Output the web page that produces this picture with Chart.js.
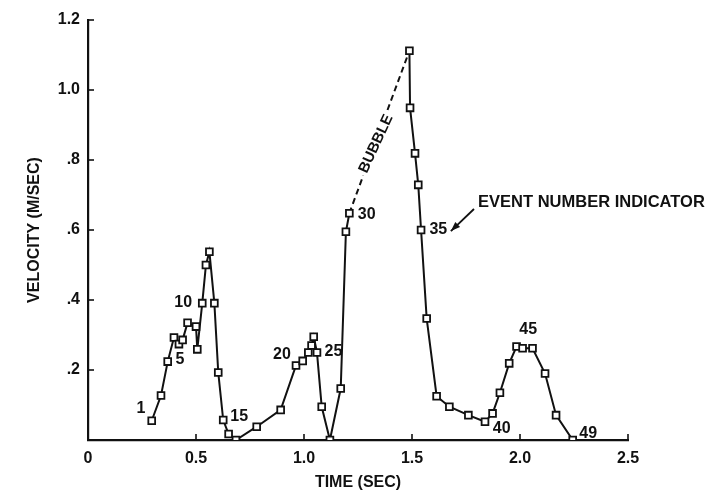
<!DOCTYPE html>
<html>
<head>
<meta charset="utf-8">
<script src="https://cdn.jsdelivr.net/npm/chart.js@4.4.1/dist/chart.umd.min.js"></script>
<style>
  html, body { margin: 0; padding: 0; background: #fff; }
  #wrap { width: 712px; height: 491px; position: relative; }
</style>
</head>
<body>
<div id="wrap"><canvas id="c" width="712" height="491"></canvas></div>
<script>
// ---- data ----
const timeSec = [0.295,0.338,0.369,0.398,0.421,0.438,0.461,0.500,0.506,0.529,
                 0.546,0.562,0.585,0.603,0.626,0.651,0.685,0.781,0.892,0.963,
                 0.994,1.020,1.035,1.045,1.060,1.082,1.120,1.170,1.194,1.210,
                 1.488,1.491,1.514,1.529,1.542,1.568,1.614,1.673,1.761,1.838,
                 1.873,1.907,1.950,1.984,2.012,2.058,2.116,2.167,2.244];
const velocity = [0.055,0.127,0.224,0.293,0.274,0.286,0.335,0.324,0.259,0.391,
                  0.500,0.538,0.391,0.193,0.057,0.017,0.000,0.038,0.086,0.213,
                  0.226,0.250,0.270,0.295,0.250,0.095,0.000,0.147,0.595,0.648,
                  1.112,0.949,0.819,0.729,0.600,0.347,0.125,0.095,0.071,0.052,
                  0.076,0.135,0.219,0.267,0.262,0.262,0.190,0.071,0.000];
const eventLabelText = ['1','5','10','15','20','25','30','35','40','45','49'];
const eventLabelX = [0.245,0.426,0.441,0.700,0.898,1.136,1.290,1.622,1.915,2.038,2.316];
const eventLabelY = [0.089,0.229,0.392,0.067,0.243,0.252,0.643,0.600,0.033,0.316,0.019];
const xTicks = [0, 0.5, 1.0, 1.5, 2.0, 2.5];
const yTicks = [0.2, 0.4, 0.6, 0.8, 1.0, 1.2];
const bubbleSegment = 29;           // segment from event 30 to event 31
const indicatorText = 'EVENT NUMBER INDICATOR';
const indicatorTextAt = [1.806, 0.680];
const indicatorArrowFrom = [1.787, 0.660];
const indicatorArrowTo = [1.680, 0.597];

const INK = '#111';
const FONT = '"Liberation Sans", Arial, sans-serif';

const points = timeSec.map((t, i) => ({x: t, y: velocity[i]}));

const annotate = {
  id: 'annotate',
  afterDraw(chart) {
    const ctx = chart.ctx;
    const xs = chart.scales.x, ys = chart.scales.y;
    const px = v => xs.getPixelForValue(v), py = v => ys.getPixelForValue(v);
    ctx.save();
    // inward tick marks
    ctx.strokeStyle = INK; ctx.lineWidth = 1.6;
    yTicks.forEach(v => {
      const y = py(v);
      ctx.beginPath(); ctx.moveTo(px(0), y); ctx.lineTo(px(0) + 6, y); ctx.stroke();
    });
    xTicks.slice(1).forEach(v => {
      const x = px(v);
      ctx.beginPath(); ctx.moveTo(x, py(0)); ctx.lineTo(x, py(0) - 6); ctx.stroke();
    });
    // event number labels
    ctx.fillStyle = INK;
    ctx.font = 'bold 16px ' + FONT;
    ctx.textAlign = 'center'; ctx.textBaseline = 'middle';
    eventLabelText.forEach((t, i) => ctx.fillText(t, px(eventLabelX[i]), py(eventLabelY[i])));
    // indicator text and arrow
    ctx.textAlign = 'left';
    ctx.font = 'bold 16.5px ' + FONT;
    ctx.fillText(indicatorText, px(indicatorTextAt[0]), py(indicatorTextAt[1]));
    const ax0 = px(indicatorArrowFrom[0]), ay0 = py(indicatorArrowFrom[1]);
    const ax1 = px(indicatorArrowTo[0]), ay1 = py(indicatorArrowTo[1]);
    ctx.lineWidth = 1.8;
    ctx.beginPath(); ctx.moveTo(ax0, ay0); ctx.lineTo(ax1, ay1); ctx.stroke();
    const ang = Math.atan2(ay1 - ay0, ax1 - ax0);
    ctx.beginPath();
    ctx.moveTo(ax1, ay1);
    ctx.lineTo(ax1 - 10 * Math.cos(ang - 0.35), ay1 - 10 * Math.sin(ang - 0.35));
    ctx.lineTo(ax1 - 10 * Math.cos(ang + 0.35), ay1 - 10 * Math.sin(ang + 0.35));
    ctx.closePath(); ctx.fill();
    // BUBBLE along the dashed segment
    const meta = chart.getDatasetMeta(0);
    const p0 = meta.data[bubbleSegment], p1 = meta.data[bubbleSegment + 1];
    const f = 0.43;
    const bx = p0.x + (p1.x - p0.x) * f, by = p0.y + (p1.y - p0.y) * f;
    const rot = Math.atan2(p1.y - p0.y, p1.x - p0.x) + 0.08;
    ctx.translate(bx, by); ctx.rotate(rot);
    ctx.font = 'bold 15px ' + FONT;
    const w = ctx.measureText('BUBBLE').width;
    ctx.fillStyle = '#fff';
    ctx.fillRect(-w / 2 - 3, -8, w + 6, 16);
    ctx.fillStyle = INK; ctx.textAlign = 'center';
    ctx.fillText('BUBBLE', 0, 1);
    ctx.restore();
  }
};

new Chart(document.getElementById('c'), {
  type: 'scatter',
  data: {
    datasets: [{
      data: points,
      showLine: true,
      borderColor: INK,
      borderWidth: 2,
      pointStyle: 'rect',
      pointRadius: 4.8,
      pointBorderWidth: 1.8,
      pointBorderColor: INK,
      pointBackgroundColor: '#fff',
      segment: {
        borderDash: ctx => ctx.p0DataIndex === bubbleSegment ? [6, 4] : undefined
      }
    }]
  },
  options: {
    responsive: false,
    animation: false,
    events: [],
    layout: { padding: { left: 0, top: 20, right: 84, bottom: 0 } },
    plugins: { legend: { display: false }, tooltip: { enabled: false } },
    scales: {
      x: {
        type: 'linear', min: 0, max: 2.5,
        afterBuildTicks: s => { s.ticks = xTicks.map(v => ({value: v})); },
        afterFit: s => { s.height = 51; },
        grid: { display: false, drawTicks: false },
        border: { display: true, color: INK, width: 2.2 },
        ticks: {
          padding: 9, color: INK,
          font: { family: FONT, size: 16, weight: 'bold' },
          callback: v => v === 0 ? '0' : Number(v).toFixed(1)
        },
        title: {
          display: true, text: 'TIME (SEC)', color: INK,
          font: { family: FONT, size: 16, weight: 'bold' },
          padding: { top: 0, bottom: -1 }
        }
      },
      y: {
        type: 'linear', min: 0, max: 1.2,
        afterBuildTicks: s => { s.ticks = [0].concat(yTicks).map(v => ({value: v})); },
        afterFit: s => { s.width = 88; },
        grid: { display: false, drawTicks: false },
        border: { display: true, color: INK, width: 2.2 },
        ticks: {
          padding: 8, color: INK,
          font: { family: FONT, size: 16, weight: 'bold' },
          callback: v => v === 0 ? '' : (v >= 1 ? Number(v).toFixed(1) : Number(v).toFixed(1).replace(/^0/, ''))
        },
        title: {
          display: true, text: 'VELOCITY (M/SEC)', color: INK,
          font: { family: FONT, size: 16, weight: 'bold' },
          padding: { top: 25, bottom: 0 }
        }
      }
    }
  },
  plugins: [annotate]
});
</script>
</body>
</html>
